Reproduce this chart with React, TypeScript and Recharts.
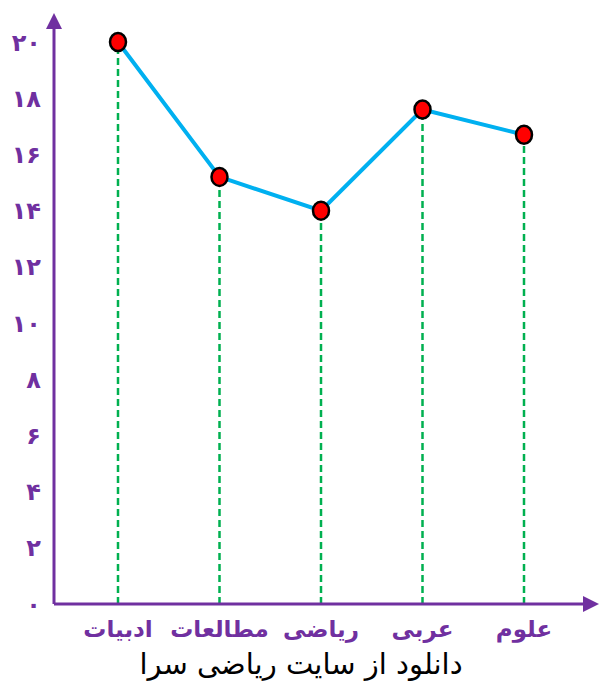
import { LineChart, Line, XAxis, YAxis, ReferenceLine } from 'recharts';

const subjects = ['ادبیات', 'مطالعات', 'ریاضی', 'عربی', 'علوم'];
const scores = [20, 15.2, 14, 17.6, 16.7];
const yTicks = [0, 2, 4, 6, 8, 10, 12, 14, 16, 18, 20];
const caption = 'دانلود از سایت ریاضی سرا';

const PURPLE = '#7030a0';
const FONT = '"DejaVu Sans", sans-serif';

const toFa = (n: number) => String(n).replace(/\d/g, d => '۰۱۲۳۴۵۶۷۸۹'[+d]);

const data = subjects.map((s, i) => ({ subject: s, score: scores[i] }));

const RedDot = (p: any) => (
  <ellipse
    key={`dot-${p.index}`}
    cx={p.cx}
    cy={p.cy}
    rx={8}
    ry={9}
    fill="#ff0000"
    stroke="#000"
    strokeWidth={2.5}
  />
);

export default function App() {
  return (
    <div style={{ position: 'fixed', top: 0, left: 0, width: 602, height: 682, background: '#fff' }}>
      <LineChart width={602} height={682} data={data} margin={{ top: 28, right: 18, bottom: 0, left: 0 }}>
        <defs>
          <marker id="axArrow" viewBox="0 0 16 16" markerUnits="userSpaceOnUse" markerWidth={16} markerHeight={16}
            refX={1} refY={8} orient="auto-start-reverse">
            <path d="M0,0 L16,8 L0,16 z" fill={PURPLE} />
          </marker>
        </defs>
        <XAxis
          dataKey="subject"
          scale="point"
          padding={{ left: 64, right: 60 }}
          height={78}
          tickLine={false}
          tickSize={0}
          tickMargin={17}
          axisLine={{ stroke: PURPLE, strokeWidth: 3, markerEnd: 'url(#axArrow)' }}
          tick={{ fill: PURPLE, fontSize: 23, fontWeight: 700, fontFamily: FONT }}
        />
        <YAxis
          type="number"
          domain={[0, 20.5]}
          ticks={yTicks}
          width={54}
          tickLine={false}
          tickSize={0}
          tickMargin={13}
          tickFormatter={toFa}
          axisLine={{ stroke: PURPLE, strokeWidth: 3, markerStart: 'url(#axArrow)' }}
          tick={{ fill: PURPLE, fontSize: 24, fontWeight: 700, fontFamily: FONT }}
        />
        {data.map(d => (
          <ReferenceLine
            key={d.subject}
            segment={[{ x: d.subject, y: 0 }, { x: d.subject, y: d.score }]}
            stroke="#00b050"
            strokeWidth={2.5}
            strokeDasharray="7 4"
          />
        ))}
        <Line
          dataKey="score"
          stroke="#00b0f0"
          strokeWidth={4}
          dot={RedDot}
          activeDot={false}
          isAnimationActive={false}
        />
      </LineChart>
      <div style={{ position: 'absolute', top: 646, left: 0, width: 602, textAlign: 'center', fontFamily: FONT, fontSize: 29, lineHeight: '36px', color: '#000', direction: 'rtl' }}>
        {caption}
      </div>
    </div>
  );
}
